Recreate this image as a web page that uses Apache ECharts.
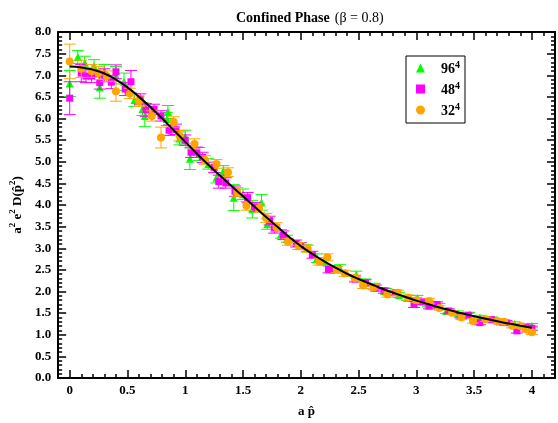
<!DOCTYPE html>
<html><head><meta charset="utf-8">
<script src="https://cdn.jsdelivr.net/npm/echarts@6/dist/echarts.min.js"></script>
<style>html,body{margin:0;padding:0;background:#fff}#c{width:558px;height:423px}</style>
</head><body><div id="c"></div>
<script>
// ---- text ----
const titleMain = 'Confined Phase';
const titleBeta = '(β = 0.8)';
const xName = 'a p̂';
const xTickLabels = [0, 0.5, 1, 1.5, 2, 2.5, 3, 3.5, 4];
const legendNames = ['96', '48', '32'];
const legendPower = '4';

// ---- data: [x, y, error] ----
const data96 = [
  [0.00, 6.81, 0.30], [0.07, 7.42, 0.15], [0.13, 7.29, 0.15], [0.21, 7.21, 0.15],
  [0.26, 6.72, 0.25], [0.30, 7.10, 0.15], [0.40, 7.00, 0.20], [0.47, 6.85, 0.20],
  [0.56, 6.43, 0.15], [0.63, 6.22, 0.15], [0.65, 6.06, 0.25], [0.84, 5.99, 0.15],
  [0.85, 6.15, 0.15], [0.95, 5.54, 0.15], [1.00, 5.58, 0.15], [1.04, 5.07, 0.25],
  [1.12, 5.18, 0.15], [1.20, 4.95, 0.12], [1.27, 4.63, 0.12], [1.33, 4.79, 0.12],
  [1.42, 4.17, 0.30], [1.50, 4.25, 0.12], [1.58, 3.90, 0.20], [1.66, 4.06, 0.18],
  [1.71, 3.56, 0.12], [1.83, 3.33, 0.10], [1.88, 3.22, 0.08], [2.05, 3.00, 0.08],
  [2.14, 2.77, 0.10], [2.20, 2.70, 0.08], [2.34, 2.54, 0.08], [2.48, 2.39, 0.08],
  [2.56, 2.22, 0.07], [2.64, 2.12, 0.07], [2.74, 2.00, 0.07], [2.85, 1.92, 0.06],
  [2.92, 1.85, 0.06], [3.01, 1.85, 0.06], [3.10, 1.72, 0.06], [3.20, 1.66, 0.06],
  [3.26, 1.55, 0.06], [3.36, 1.50, 0.05], [3.46, 1.47, 0.05], [3.55, 1.40, 0.05],
  [3.65, 1.36, 0.05], [3.75, 1.30, 0.05], [3.85, 1.25, 0.05], [3.93, 1.20, 0.05],
  [4.00, 1.21, 0.05]
];
const data48 = [
  [0.00, 6.47, 0.38], [0.10, 7.05, 0.20], [0.14, 6.98, 0.15], [0.19, 6.98, 0.15],
  [0.26, 6.83, 0.15], [0.30, 7.00, 0.15], [0.36, 6.84, 0.15], [0.40, 7.08, 0.16],
  [0.48, 6.68, 0.15], [0.53, 6.85, 0.26], [0.61, 6.45, 0.12], [0.66, 6.20, 0.15],
  [0.73, 6.21, 0.12], [0.79, 6.06, 0.12], [0.86, 5.73, 0.12], [0.92, 5.75, 0.12],
  [1.00, 5.50, 0.12], [1.05, 5.22, 0.12], [1.10, 5.22, 0.12], [1.15, 5.10, 0.12],
  [1.25, 4.87, 0.12], [1.29, 4.54, 0.15], [1.35, 4.51, 0.12], [1.43, 4.32, 0.12],
  [1.54, 4.17, 0.12], [1.60, 3.96, 0.10], [1.73, 3.64, 0.10], [1.77, 3.45, 0.10],
  [1.85, 3.30, 0.10], [1.96, 3.11, 0.08], [2.00, 3.05, 0.08], [2.10, 2.85, 0.08],
  [2.24, 2.51, 0.08], [2.30, 2.51, 0.08], [2.47, 2.29, 0.07], [2.56, 2.20, 0.07],
  [2.65, 2.08, 0.07], [2.72, 2.02, 0.06], [2.82, 1.97, 0.06], [2.98, 1.70, 0.07],
  [3.05, 1.76, 0.06], [3.11, 1.66, 0.06], [3.18, 1.70, 0.06], [3.28, 1.55, 0.05],
  [3.38, 1.44, 0.05], [3.45, 1.45, 0.05], [3.55, 1.28, 0.05], [3.65, 1.35, 0.05],
  [3.72, 1.30, 0.05], [3.78, 1.28, 0.05], [3.87, 1.09, 0.05], [3.95, 1.17, 0.05],
  [4.00, 1.15, 0.05]
];
const data32 = [
  [0.00, 7.32, 0.40], [0.10, 7.15, 0.20], [0.19, 7.10, 0.15], [0.25, 7.05, 0.15],
  [0.32, 6.98, 0.12], [0.40, 6.63, 0.23], [0.52, 6.58, 0.12], [0.60, 6.40, 0.12],
  [0.71, 6.06, 0.12], [0.79, 5.56, 0.24], [0.90, 5.92, 0.12], [0.95, 5.60, 0.12],
  [1.08, 5.41, 0.12], [1.17, 5.04, 0.10], [1.27, 4.95, 0.10], [1.37, 4.76, 0.10],
  [1.45, 4.30, 0.10], [1.53, 3.98, 0.10], [1.64, 3.93, 0.10], [1.70, 3.70, 0.10],
  [1.79, 3.49, 0.10], [1.89, 3.15, 0.08], [1.98, 3.05, 0.08], [2.06, 2.99, 0.08],
  [2.16, 2.69, 0.08], [2.23, 2.79, 0.08], [2.31, 2.51, 0.07], [2.38, 2.42, 0.07],
  [2.47, 2.31, 0.07], [2.54, 2.14, 0.07], [2.63, 2.10, 0.06], [2.75, 1.93, 0.06],
  [2.84, 1.97, 0.06], [2.93, 1.86, 0.06], [3.00, 1.80, 0.06], [3.11, 1.78, 0.06],
  [3.20, 1.62, 0.05], [3.31, 1.51, 0.05], [3.39, 1.40, 0.05], [3.49, 1.32, 0.05],
  [3.60, 1.36, 0.05], [3.70, 1.32, 0.05], [3.76, 1.30, 0.05], [3.83, 1.21, 0.05],
  [3.90, 1.20, 0.05], [3.95, 1.12, 0.05], [4.00, 1.06, 0.05]
];
// fit curve
const curveX = [0, 0.1, 0.2, 0.3, 0.4, 0.5, 0.6, 0.7, 0.8, 0.9, 1.0, 1.1, 1.2, 1.3, 1.4,
  1.5, 1.6, 1.7, 1.8, 1.9, 2.0, 2.1, 2.2, 2.3, 2.4, 2.5, 2.6, 2.7, 2.8, 2.9, 3.0,
  3.1, 3.2, 3.3, 3.4, 3.5, 3.6, 3.7, 3.8, 3.9, 4.0];
const curveY = [7.20, 7.18, 7.13, 7.04, 6.90, 6.72, 6.50, 6.26, 6.00, 5.73, 5.46, 5.19,
  4.93, 4.68, 4.44, 4.20, 3.96, 3.72, 3.49, 3.26, 3.05, 2.87, 2.70, 2.55, 2.41, 2.29,
  2.18, 2.07, 1.97, 1.88, 1.79, 1.71, 1.63, 1.56, 1.49, 1.43, 1.37, 1.31, 1.26, 1.21, 1.16];

const colors = ['#00ff00', '#ff00ff', '#ffa500'];
const symbols = ['triangle', 'rect', 'circle'];
const symbolSizes = [8, 7, 8];
const allData = [data96, data48, data32];

const FONT = 'Liberation Serif, Times New Roman, serif';

function errSeries(idx) {
  const color = colors[idx];
  return {
    type: 'custom', name: 'err' + idx, silent: true, z: 2 + idx * 2,
    data: allData[idx].map(d => [d[0], d[1] - d[2], d[1] + d[2]]),
    encode: { x: 0, y: [1, 2] },
    renderItem: function (params, api) {
      const lo = api.coord([api.value(0), api.value(1)]);
      const hi = api.coord([api.value(0), api.value(2)]);
      const w = 6;
      const st = { stroke: color, lineWidth: 1 };
      return { type: 'group', children: [
        { type: 'line', shape: { x1: lo[0], y1: lo[1], x2: hi[0], y2: hi[1] }, style: st },
        { type: 'line', shape: { x1: lo[0] - w, y1: lo[1], x2: lo[0] + w, y2: lo[1] }, style: st },
        { type: 'line', shape: { x1: hi[0] - w, y1: hi[1], x2: hi[0] + w, y2: hi[1] }, style: st }
      ]};
    }
  };
}
function ptSeries(idx) {
  return {
    type: 'scatter', name: legendNames[idx], z: 3 + idx * 2,
    symbol: symbols[idx], symbolSize: symbolSizes[idx],
    itemStyle: { color: colors[idx], opacity: 1 },
    data: allData[idx].map(d => [d[0], d[1]])
  };
}

const lineBlack = { color: '#000', width: 2 };
const tickStyle = { color: '#000', width: 1.5 };
const labelStyle = { fontFamily: FONT, fontWeight: 'bold', fontSize: 13, color: '#000' };

function xMajor(pos, withLabels) {
  return {
    type: 'value', position: pos, min: -0.1, max: 4.2, splitNumber: 9,
    axisLine: { show: true, onZero: false, lineStyle: lineBlack },
    axisTick: { show: true, inside: true, length: 8, lineStyle: tickStyle },
    minorTick: { show: false },
    splitLine: { show: false },
    axisLabel: withLabels ? Object.assign({ margin: 6,
      formatter: v => xTickLabels.some(t => Math.abs(t - v) < 1e-6) ? String(+v.toFixed(1)) : '' }, labelStyle)
      : { show: false },
    name: withLabels ? xName : '', nameLocation: 'middle', nameGap: 27,
    nameTextStyle: { fontFamily: FONT, fontWeight: 'bold', fontSize: 13, color: '#000' }
  };
}
function xMinor(pos) {
  return {
    type: 'value', position: pos, min: -0.1, max: 4.2, interval: 0.1,
    axisLine: { show: false, onZero: false },
    axisTick: { show: true, inside: true, length: 4, lineStyle: tickStyle },
    splitLine: { show: false }, axisLabel: { show: false }
  };
}
function yAxis(pos, withLabels) {
  return {
    type: 'value', position: pos, min: 0, max: 8, interval: 0.5,
    axisLine: { show: true, onZero: false, lineStyle: lineBlack },
    axisTick: { show: true, inside: true, length: 8, lineStyle: tickStyle },
    minorTick: { show: true, splitNumber: 5, length: 4, lineStyle: tickStyle },
    splitLine: { show: false },
    axisLabel: withLabels ? Object.assign({ margin: 7, formatter: v => v.toFixed(1) }, labelStyle) : { show: false },
    name: withLabels ? '{t|a}{s|2}{t| e}{s|2}{t| D(p̂}{s|2}{t|)}' : '',
    nameLocation: 'middle', nameGap: 28, nameRotate: 90,
    nameTextStyle: { fontFamily: FONT, fontWeight: 'bold', fontSize: 13, color: '#000',
      rich: {
        t: { fontFamily: FONT, fontWeight: 'bold', fontSize: 13, color: '#000', lineHeight: 16, verticalAlign: 'bottom' },
        s: { fontFamily: FONT, fontWeight: 'bold', fontSize: 9, color: '#000', lineHeight: 16, verticalAlign: 'top' }
      } }
  };
}

const series = [];
for (let i = 0; i < 3; i++) { series.push(errSeries(i)); series.push(ptSeries(i)); }
series.push({
  type: 'line', name: 'fit', z: 20, showSymbol: false, smooth: true, silent: true,
  lineStyle: { color: '#000', width: 2 },
  data: curveX.map((x, i) => [x, curveY[i]])
});

const chart = echarts.init(document.getElementById('c'), null, { renderer: 'canvas' });
chart.setOption({
  animation: false,
  backgroundColor: '#fff',
  title: {
    text: '{b|' + titleMain + '} {n|' + titleBeta + '}',
    left: 231, top: 4,
    textStyle: { rich: {
      b: { fontFamily: FONT, fontWeight: 'bold', fontSize: 14, color: '#000' },
      n: { fontFamily: FONT, fontWeight: 'normal', fontSize: 14, color: '#000' }
    } }
  },
  grid: { left: 53, right: 2, top: 32, bottom: 40, containLabel: false },
  legend: {
    data: legendNames.map((n, i) => ({ name: n, icon: symbols[i] })),
    orient: 'vertical', left: 406, top: 56,
    padding: [4, 5, 5, 10], itemWidth: 9, itemHeight: 9, itemGap: 5,
    borderColor: '#000', borderWidth: 1, borderRadius: 0,
    selectedMode: false,
    formatter: n => '{b|' + n + '}{s|' + legendPower + '}',
    textStyle: { fontFamily: FONT, fontWeight: 'bold', fontSize: 14, color: '#000',
      rich: {
        b: { fontFamily: FONT, fontWeight: 'bold', fontSize: 14, color: '#000', padding: [0, 0, 0, 11], lineHeight: 16, verticalAlign: 'bottom' },
        s: { fontFamily: FONT, fontWeight: 'bold', fontSize: 10, color: '#000', lineHeight: 16, verticalAlign: 'top' }
      } }
  },
  xAxis: [xMajor('bottom', true), xMinor('bottom'), xMajor('top', false), xMinor('top')],
  yAxis: [yAxis('left', true), yAxis('right', false)],
  series: series
});
</script>
</body></html>
